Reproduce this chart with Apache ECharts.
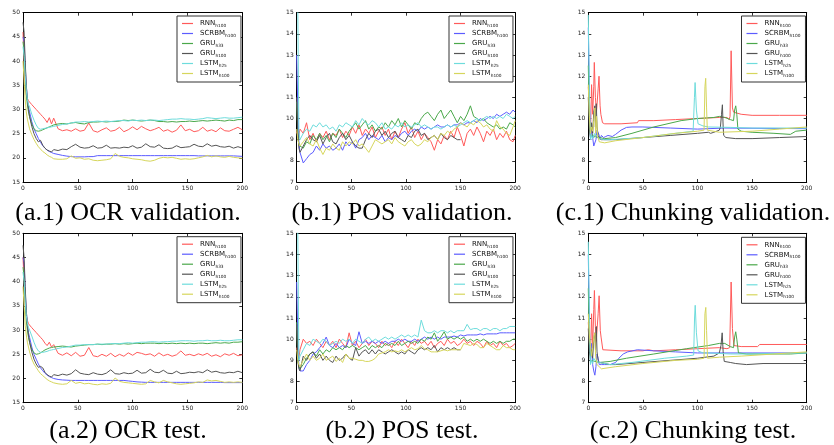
<!DOCTYPE html>
<html><head><meta charset="utf-8">
<script src="https://cdn.jsdelivr.net/npm/echarts@6/dist/echarts.min.js"></script>
<style>html,body{margin:0;padding:0;background:#fff}#c{width:834px;height:445px}</style>
</head><body><div id="c"></div>
<script>
// ---- names / colours ----
const seriesNames = ['RNN_h100','SCRBM_h100','GRU_h33','GRU_h100','LSTM_h25','LSTM_h100'];
const seriesColors = ['#ff5a5a','#5c5cff','#4aa84a','#555555','#6edcdc','#d6d65c'];
const captions = ['(a.1) OCR validation.','(b.1) POS validation.','(c.1) Chunking validation.',
                  '(a.2) OCR test.','(b.2) POS test.','(c.2) Chunking test.'];
const ocrTicks = {min:15,max:50,interval:5};
const tagTicks = {min:7,max:15,interval:1};
const epochTicks = {min:0,max:200,interval:50};

// ---- OCR (epochs) ----
const ocrX = [0,1,2,3,4,5,6,8,10,12,14,16,18,20,22,24,26,28,32,36,40,44,48,52,56,60,64,68,72,76,80,84,88,92,96,100,104,108,112,116,120,124,128,132,136,140,144,148,152,156,160,164,168,172,176,180,184,188,192,196,200];
const ocrValRNN = [46,40,35,33,32.3,31.8,31.5,31,30.5,30,29.5,29,28.5,28,27.3,28.3,27,
 28.2,26,25.6,25.8,25.5,26,25.5,25.7,27.2,25.6,25.3,25.8,26.2,25.5,25.7,26.3,25.4,25.8,26.4,25.8,26.5,26,25.6,25.9,26.3,25.5,25.8,25.3,25.7,26.8,25.6,25.9,25.4,25.6,26.3,25.5,25.8,25.4,26.2,25.6,25.5,25.9,26.3,25.8];
const ocrValSCRBM = [45,44,39,35,32,30.5,29.5,27.5,26,25,24,23.2,22.5,22,21.6,21.3,21.1,
 20.9,20.7,20.5,20.35,20.25,20.2,20.2,20.2,20.25,20.25,20.45,
 20.45,20.45,20.45,20.45,20.45,20.45,20.45,20.45,20.45,20.45,20.45,20.45,20.45,20.45,20.45,20.45,20.45,20.45,20.45,20.45,20.45,20.45,
 20.4,20.4,20.4,20.4,20.4,20.4,20.4,20.4,20.4,20.35,20.3];
const ocrValGRU33 = [44,42,37,33,31,29.5,28.5,27,26,25.6,25.5,25.6,25.8,26,26.2,26.4,26.6,
 26.8,27,27.1,27,27.2,27.3,27.1,27,27.3,27.4,27.4,27.5,27.4,27.5,27.5,27.6,27.8,27.7,27.8,27.7,27.6,27.7,27.8,27.7,27.5,27.5,27.4,27.5,27.4,27.5,27.5,27.6,27.5,27.6,27.7,27.6,27.7,27.8,27.7,27.6,27.8,27.7,27.9,27.9];
const ocrValGRU100 = [48,46,40,35,32,30,28.5,26.5,25,24,23.3,23.6,22.6,22,21.6,21.4,21.2,
 21.7,21.5,21.8,21.7,22.3,22.8,22.2,22,22.1,22.5,22,22.1,22.6,22,22.1,22,22.2,22.1,22.5,22,22.2,22.9,22.3,22.2,22.7,22,21.9,22,22.5,22.1,22.2,22.3,22.8,22.4,22.3,22.9,22.4,22.6,22.3,22.2,22.4,22,22.3,22];
const ocrValLSTM25 = [43,41,37,34,32,31,30.5,29,27.8,26.8,26.1,25.9,26,26.1,26.2,26.3,26.4,
 26.5,26.7,26.9,27,27.2,27.4,27.4,27.5,27.4,27.5,27.6,27.5,27.6,27.5,27.6,27.7,27.7,27.6,27.8,27.7,27.8,27.7,27.8,27.8,27.7,27.8,27.9,28,28,28.1,28,28,27.9,28,28.1,28.3,28.2,28.1,28.2,28.3,28.2,28.2,28.3,28.4];
const ocrValLSTM100 = [40,36,32,29.5,28,27,26,24.8,23.8,23,22.3,21.8,21.3,21,20.6,20.3,20.1,
 19.8,19.7,19.7,19.8,20.4,19.9,20,19.7,19.8,19.5,19.4,19.5,19.6,19.8,20.9,20.3,20.1,20,19.8,19.7,19.6,19.4,19.3,19.5,19.9,20.1,20,20.1,19.9,19.7,19.8,19.7,19.8,20,20.2,20.5,20.2,20.4,20.2,20.1,20.3,20.1,20,19.9];

const ocrTestRNN = [45,40,35,33,32,31.3,31,30.5,30,29.5,29,28.5,28,27.3,26.8,27.5,26.5,
 27,25.2,24.8,25.3,24.7,25.4,24.6,24.8,26.4,24.7,24.5,25,24.6,25.2,24.5,25,24.6,25.3,24.8,25.4,25.2,24.9,25.1,24.6,25.3,24.7,25,24.6,24.9,25.7,24.8,25,24.7,25.1,24.8,25.2,24.6,24.9,24.5,25.1,24.8,25.2,24.7,24.9];
const ocrTestSCRBM = [45,44,38,34,31,29.5,28.5,26.5,25,24,23,22.2,21.6,21.1,20.7,20.4,20.2,
 20,19.8,19.7,19.65,19.6,19.6,19.6,19.6,19.6,19.6,19.6,19.6,19.6,19.6,19.6,19.6,19.6,19.5,19.4,19.3,19.25,
 19.2,19.2,19.2,19.2,19.2,19.2,19.2,19.2,19.2,19.2,19.2,19.2,19.2,19.2,19.2,19.2,19.2,19.2,19.15,19.15,19.15,19.15,19.15];
const ocrTestGRU33 = [43,41,36,32,30,28.5,27.5,26,25.3,25,25.1,25.3,25.6,25.9,26.1,26.3,26.4,
 26.5,26.6,26.7,26.6,26.5,26.7,26.8,26.9,27,27,27.1,27,27.1,27.1,27.2,27.1,27.2,27.1,27.2,27.3,27.2,27.3,27.3,27.3,27.2,27.3,27.2,27.3,27.2,27.3,27.2,27.3,27.2,27.3,27.3,27.2,27.3,27.4,27.3,27.4,27.3,27.5,27.5,27.6];
const ocrTestGRU100 = [47.5,45,39,34,31,29,27.5,25.5,24,23,22.3,22.5,22.2,21.3,20.8,20.5,20.3,
 20.8,20.6,20.9,20.7,21,21.8,21.1,20.9,20.8,21.2,20.9,20.8,21.1,21.8,21,20.9,21.2,21,21.1,21.7,21.1,21.2,21.9,21.3,21.2,21.7,21.1,21,21.5,21,21.1,21.3,21.2,21.4,21.2,21.8,21.3,21.5,21.2,21.1,21.3,21.2,21.5,21.2];
const ocrTestLSTM25 = [42,40,36,33,31.5,30.5,30,28.8,27.5,26.4,25.7,25.4,25.4,25.5,25.6,25.8,25.9,
 26,26.2,26.4,26.5,26.7,26.9,26.9,27,27,27,27.1,27.1,27.1,27.2,27.2,27.2,27.3,27.4,27.3,27.4,27.5,27.5,27.6,27.6,27.5,27.6,27.6,27.7,27.7,27.8,27.8,27.8,27.7,27.8,27.8,27.9,27.8,27.8,27.9,27.8,27.8,27.9,28,28];
const ocrTestLSTM100 = [39,35,31,29,27.5,26.5,25.5,24,23,22.3,21.6,21,20.6,20.2,19.8,19.5,19.3,
 19.1,18.9,18.8,18.9,19.6,19,19.2,18.9,19,18.8,18.7,18.9,18.8,19,20.1,19.4,19.2,19.1,19,18.9,18.8,18.9,19.6,19.3,19.1,19.6,19.3,19.1,18.9,18.8,18.9,19,19.1,19.3,19.2,19.7,19.5,19.6,19.4,19.2,19.3,19.2,19.3,19.2];

// ---- POS (epochs) ----
const posX = [0,1,2,3,6,9,12,15,18,21, 24,27,30,33,36,39,42,45,48,51, 54,57,60,63,66,69,72,75,78,81,
 84,87,90,93,96,99,102,105,108,111, 114,117,120,123,126,129,132,135,138,141, 144,147,150,153,156,159,162,165,168,171,
 174,177,180,183,186,189,192,195,198,200];
const posValRNN = [9.3,9.5,9.2,9.5,9.3,9.8,9.0,9.3,8.9,9.3, 9.1,9.4,9.0,9.3,9.2,9.5,9.1,9.4,9.2,9.6,
 9.3,9.7,9.2,9.5,9.3,9.6,9.1,9.4,9.6,9.2, 9.5,9.0,9.4,9.1,9.5,9.8,9.3,9.6,9.1,9.4,
 9.0,9.3,9.1,8.9,8.5,9.0,8.8,9.2,9.0,9.4, 9.1,9.6,9.2,8.7,9.3,9.5,9.2,9.6,9.3,8.9,
 9.4,9.2,9.5,9.0,9.3,9.1,9.4,9.0,8.9,9.2];
const posValSCRBM = [13,10.5,8.9,8.4,7.9,8.1,8.3,8.4,8.7,8.5, 8.8,8.6,8.7,8.5,8.6,8.8,8.5,8.9,8.7,8.9,
 8.6,9.0,9.1,9.3,9.0,9.2,9.1,9.0,9.2,8.9, 9.1,9.0,9.2,9.1,9.3,9.4,9.2,9.4,9.5,9.4,
 9.6,9.5,9.6,9.5,9.6,9.7,9.6,9.6,9.7,9.6, 9.7,9.7,9.8,9.7,9.8,9.8,9.9,9.8,10.0,9.9,
 10.0,10.1,10.0,10.2,10.1,10.2,10.3,10.2,10.4,10.3];
const posValGRU33 = [10.8,9.2,8.8,8.7,8.6,8.9,8.8,9.2,9.0,9.3, 9.0,9.2,8.9,9.3,9.1,9.5,9.3,9.1,9.4,9.6,
 9.8,9.5,9.7,9.9,9.5,9.7,9.4,9.6,9.5,9.8, 9.6,9.9,9.7,10.0,9.6,9.9,9.7,9.5,9.8,9.7,
 10.0,10.2,10.3,10.1,9.9,10.2,10.4,10.0,10.2,10.4, 10.1,9.8,10.1,9.9,10.2,10.6,10.1,10.0,9.9,10.0,
 9.8,9.7,9.6,9.7,9.5,9.6,9.5,9.8,9.7,9.6];
const posValGRU100 = [11.0,9.4,8.6,8.4,8.7,9.0,9.2,9.0,8.9,9.2, 8.8,9.1,9.3,8.9,8.8,9.1,9.3,9.0,9.2,8.9,
 8.7,8.6,8.6,9.0,9.3,9.1,9.4,9.5,9.2,9.4, 9.1,9.3,9.4,9.1,9.0,8.9,9.2,9.1,9.4,9.5,
 9.2,9.3,9.0,9.1,9.2,9.0,9.3,9.1,9.0,9.2, 9.1,9.0,9.0];
const posValLSTM25 = [16,15.2,9.4,9.0,9.3,9.5,9.4,9.7,9.6,9.8, 9.6,9.7,9.5,9.6,9.4,9.7,9.6,9.8,9.7,9.6,
 9.9,9.7,10.0,9.8,9.7,9.9,9.8,9.6,9.8,9.5, 9.6,9.5,9.7,9.6,9.8,9.6,9.7,9.6,9.7,9.8,
 9.6,9.7,9.6,9.5,9.6,9.6,9.5,9.6,9.7,9.6, 9.7,9.6,9.7,9.8,9.9,9.8,9.9,10.0,9.9,10.0,
 10.1,10.0,10.1,10.0,10.1,10.0,10.2,10.1,10.0,10.1];
const posValLSTM100 = [9.5,9.0,8.8,8.7,8.9,9.1,8.8,8.7,9.0,8.6, 8.3,8.6,8.5,8.8,8.6,8.5,8.9,8.7,8.9,8.8,
 9.0,8.7,8.8,8.6,8.4,8.7,9.0,8.9,8.8,8.9, 9.0,8.8,9.1,8.9,8.8,8.7,8.9,9.0,8.8,8.7,
 8.8,9.0,8.9,9.1,9.2,9.0,9.3,9.2,9.4,9.3, 9.5,9.6,9.8,9.7,9.6,9.8,9.7,9.9,9.8,9.6,
 9.7,9.5,9.4,9.9,9.6,9.5,9.3,9.2,9.6,9.9];

const posTestRNN = [9.6,9.3,9.1,9.5,10.0,9.8,9.9,9.7,10.0,9.8, 9.6,9.9,9.7,9.9,9.6,10.0,9.8,9.6,10.3,9.7,
 9.9,9.6,9.8,10.0,9.7,9.9,9.8,9.6,9.9,9.7, 9.8,9.6,9.9,9.7,10.0,9.8,9.6,9.9,9.7,10.0,
 9.8,9.9,9.7,9.9,9.6,9.8,9.9,9.7,10.0,9.8, 9.9,9.7,9.8,10.0,9.8,9.9,9.7,9.9,9.8,9.6,
 9.9,9.7,9.8,9.6,9.9,9.7,9.8,9.6,9.7,9.8];
const posTestSCRBM = [12.7,10.0,8.7,8.5,8.5,8.8,9.0,9.3,9.4,9.6, 9.8,10.1,9.7,9.6,9.8,9.6,9.7,9.6,10.0,9.8,
 9.7,10.35,9.8,9.9,9.8,9.9,9.8,9.9,9.8,9.9, 9.8,9.9,9.9,10.0,9.9,10.0,9.9,9.9,10.0,9.9,
 10.0,10.1,10.0,10.1,10.0,10.1,10.0,10.1,10.1,10.1, 10.15,10.1,10.2,10.15,10.2,10.2,10.2,10.2,10.25,10.2,
 10.25,10.25,10.25,10.25,10.3,10.3,10.3,10.3,10.3,10.3];
const posTestGRU33 = [10.8,9.0,8.7,8.6,8.8,9.1,9.3,9.4,9.2,9.5, 9.3,9.5,9.4,9.6,9.5,9.6,9.5,9.7,9.6,9.7,
 9.6,9.5,9.6,9.7,9.5,9.7,9.6,9.7,9.6,9.8, 9.7,9.8,9.7,9.9,9.7,9.8,9.9,9.8,9.9,9.8,
 10.0,9.9,10.1,10.0,10.3,9.9,10.1,10.35,10.0,10.1, 10.0,10.1,10.0,10.1,9.9,10.0,9.9,10.0,9.9,10.0,
 9.9,9.8,9.9,9.8,9.9,9.8,9.9,9.9,10.0,10.0];
const posTestGRU100 = [10.7,9.0,8.6,8.5,9.2,9.0,9.3,9.4,9.1,9.3, 9.0,9.2,9.0,8.9,9.2,9.0,9.1,9.3,9.1,9.0,
 9.6,9.2,9.4,9.5,9.3,9.5,9.3,9.5,9.4,9.3, 9.4,9.5,9.4,9.3,9.4,9.3,9.5,9.4,9.3,9.5,
 9.6,9.5,9.6,9.5,9.7,9.4,9.6,9.5,9.6,9.5, 9.6,9.5,9.5];
const posTestLSTM25 = [16,15.1,9.0,9.2,9.5,9.8,9.7,10.0,9.9,9.8, 10.0,9.9,9.7,9.8,9.9,9.8,10.0,9.9,10.0,9.8,
 10.0,9.9,9.8,10.0,10.1,9.9,10.0,9.9,10.0,10.1, 10.0,10.1,10.0,10.1,10.2,10.1,10.2,10.1,10.2,10.1,
 10.9,10.4,10.3,10.3,10.4,10.3,10.4,10.4,10.3,10.4, 10.3,10.4,10.4,10.4,10.7,10.45,10.5,10.5,10.4,10.5,
 10.5,10.4,10.5,10.5,10.4,10.5,10.5,10.6,10.6,10.6];
const posTestLSTM100 = [9.5,9.0,8.8,8.7,9.0,9.3,9.0,9.2,9.0,9.1, 9.3,9.0,9.1,9.2,8.95,9.1,8.9,9.3,9.1,9.1,
 9.05,9.0,9.0,8.95,8.95,9.0,9.1,9.3,9.35,9.4, 9.5,9.4,9.45,9.4,9.5,9.4,9.5,9.6,9.5,9.55,
 9.7,9.55,9.5,9.4,9.4,9.4,9.45,9.5,9.45,9.5, 9.5,9.5,9.5,9.8,9.75,9.7,9.8,9.75,9.6,9.6,
 9.8,9.7,9.6,9.5,9.5,9.7,9.6,9.6,9.5,9.5];

// ---- Chunking ([epoch, value]) ----
const chkValRNN = [[0,11.5],[1,10.3],[2,9.2],[3,11.6],[4,10.2],[5,11.5],[5.5,12.65],[6.5,11.0],[7.5,10.3],[9,11.4],[9.8,12.0],[10.8,10.6],[11.5,10.2],[12,10.25],[13,9.8],[15,9.75],[30,9.75],[45,9.8],[46,9.9],[60,9.9],[80,9.95],[100,10],[120,10.05],[127,10.05],[129,9.95],[129.8,10.1],[130.8,13.2],[132,10.5],[133,10.3],[140,10.2],[150,10.15],[175,10.15],[200,10.15]];
const chkValSCRBM = [[0,14.3],[1,11],[2,9.0],[3,9.6],[4,9.1],[5,8.7],[6,8.65],[7,9.0],[8,9.45],[9,9.4],[10,9.2],[11,9.05],[12,9.2],[14,9.1],[16,9.15],[18,9.2],[22,9.15],[25,9.25],[30,9.45],[35,9.58],[40,9.6],[50,9.6],[75,9.55],[100,9.5],[125,9.55],[200,9.52]];
const chkValGRU33 = [[0,12.5],[1,10],[2,9.1],[3,9.15],[4,9.25],[5,9.1],[6,9.2],[8,9.1],[10,9.1],[15,9.05],[25,9.1],[40,9.3],[60,9.6],[85,9.9],[100,10.0],[115,10.05],[120,10.1],[125,10.05],[130,9.95],[133,9.9],[134,10.4],[135,10.6],[136,10.2],[137,9.5],[140,9.4],[150,9.35],[170,9.3],[185,9.25],[190,9.4],[200,9.45]];
const chkValGRU100 = [[0,11],[1,9.5],[2,9.1],[3,9.8],[4,9.3],[5,10.3],[6,10.6],[6.5,9.6],[7.3,10.7],[8,9.6],[9,9.2],[10,9.05],[12,9.0],[15,9.0],[25,9.0],[50,9.1],[75,9.2],[100,9.3],[110,9.35],[112,9.3],[115,9.35],[120,9.45],[121,9.6],[122,10.2],[122.8,10.65],[123.5,9.6],[124,9.2],[126,9.1],[135,9.05],[150,9.05],[175,9.1],[200,9.15]];
const chkValLSTM25 = [[0,14.9],[1,11],[2,9.0],[3,9.2],[4,9.05],[5,9.1],[6,9.3],[8,9.15],[10,9.05],[15,9.0],[20,9.0],[50,9.1],[80,9.3],[96,9.4],[97.2,11.0],[97.8,11.7],[99,10.4],[100.5,9.75],[105,9.65],[110,9.6],[130,9.58],[150,9.55],[200,9.55]];
const chkValLSTM100 = [[0,11.6],[1,10.1],[2,9.3],[3,9.6],[4,9.4],[5,9.9],[6,10.5],[6.7,9.3],[7.5,10.1],[8.5,9.2],[10,8.9],[15,8.85],[25,8.95],[50,9.1],[80,9.3],[100,9.4],[106,9.45],[106.8,11.5],[107.5,11.9],[108.3,10.5],[109,9.45],[110,9.4],[120,9.35],[150,9.4],[175,9.5],[200,9.6]];

const chkTestRNN = [[0,10.8],[1,9.9],[2,9.0],[3,11.2],[4,9.6],[5,11.4],[5.6,12.3],[6.5,10.6],[7.3,9.9],[9,11.2],[9.9,12.05],[11,10.4],[11.7,10.1],[12.3,10.1],[13.3,9.5],[15,9.45],[30,9.45],[50,9.45],[55,9.5],[60,9.45],[80,9.5],[100,9.55],[120,9.6],[127,9.55],[128.5,9.5],[129.5,9.6],[130.8,12.7],[132,10.5],[133.3,9.7],[140,9.65],[155,9.65],[157,9.75],[200,9.75]];
const chkTestSCRBM = [[0,14],[1,10.5],[2,8.9],[3,9.8],[4,8.8],[5,8.5],[6,8.3],[7,8.7],[8,9.3],[9,9.1],[10,8.8],[12,8.8],[15,8.8],[20,8.8],[25,8.9],[28,9.1],[32,9.3],[36,9.4],[45,9.5],[60,9.45],[80,9.4],[100,9.35],[150,9.35],[200,9.35]];
const chkTestGRU33 = [[0,12.4],[1,9.8],[2,8.9],[3,9.0],[4,9.05],[6,8.95],[10,8.9],[20,8.95],[35,9.1],[60,9.3],[90,9.55],[110,9.7],[120,9.8],[125,9.8],[130,9.65],[133,9.6],[134,10.1],[135,10.35],[136,10.0],[137.5,9.35],[145,9.3],[160,9.3],[185,9.3],[200,9.35]];
const chkTestGRU100 = [[0,10.5],[1,9.4],[2,9.2],[3,9.5],[4,9.1],[5,10.0],[6,10.3],[6.6,9.5],[7.3,10.6],[8,9.4],[9,9.0],[10,8.9],[15,8.85],[20,8.8],[25,8.8],[50,8.9],[75,9.0],[100,9.1],[115,9.2],[120,9.35],[121.5,9.7],[122.6,10.3],[123.5,9.4],[124.5,8.95],[130,8.9],[135,8.85],[145,8.8],[160,8.85],[200,8.85]];
const chkTestLSTM25 = [[0,14.6],[1,10.8],[2,8.8],[3,9.0],[4,8.85],[5,9.1],[6,9.0],[8,8.95],[10,8.9],[20,8.8],[40,8.9],[70,9.1],[90,9.2],[96.5,9.25],[97.3,11.0],[97.9,11.6],[99,10.3],[100.5,9.45],[105,9.35],[110,9.35],[130,9.3],[150,9.3],[200,9.35]];
const chkTestLSTM100 = [[0,11.2],[1,10.2],[2,9.7],[3,9.2],[4,9.6],[5,10.1],[6,10.3],[6.7,9.2],[8,8.8],[10,8.7],[12,8.6],[25,8.7],[50,8.85],[80,9.0],[100,9.05],[106,9.1],[106.8,11.2],[107.6,11.5],[108.3,10.4],[109.2,9.1],[110,9.1],[120,9.15],[140,9.2],[170,9.3],[200,9.4]];

// ---- assemble ----
function pairs(xs, ys){ return ys.map((y,i)=>[xs[i], y]); }
const panels = [
  {grid:{left:23,top:12.7,width:219.3,height:169.3}, legend:{left:177,top:16}, y:ocrTicks,
   data:[ocrValRNN,ocrValSCRBM,ocrValGRU33,ocrValGRU100,ocrValLSTM25,ocrValLSTM100].map(v=>pairs(ocrX,v))},
  {grid:{left:296.7,top:12.7,width:218.5,height:169.3}, legend:{left:449,top:16}, y:tagTicks,
   data:[posValRNN,posValSCRBM,posValGRU33,posValGRU100,posValLSTM25,posValLSTM100].map(v=>pairs(posX,v))},
  {grid:{left:588.3,top:12.7,width:218.4,height:169.3}, legend:{left:741.5,top:16}, y:tagTicks,
   data:[chkValRNN,chkValSCRBM,chkValGRU33,chkValGRU100,chkValLSTM25,chkValLSTM100]},
  {grid:{left:23,top:233.3,width:219.3,height:169.4}, legend:{left:177,top:236.7}, y:ocrTicks,
   data:[ocrTestRNN,ocrTestSCRBM,ocrTestGRU33,ocrTestGRU100,ocrTestLSTM25,ocrTestLSTM100].map(v=>pairs(ocrX,v))},
  {grid:{left:296.7,top:233.3,width:218.5,height:169.4}, legend:{left:449,top:236.7}, y:tagTicks,
   data:[posTestRNN,posTestSCRBM,posTestGRU33,posTestGRU100,posTestLSTM25,posTestLSTM100].map(v=>pairs(posX,v))},
  {grid:{left:588.3,top:233.3,width:218.4,height:169.4}, legend:{left:741.5,top:237.3}, y:tagTicks,
   data:[chkTestRNN,chkTestSCRBM,chkTestGRU33,chkTestGRU100,chkTestLSTM25,chkTestLSTM100]}
];
const captionPos = [[128,213],[402,213],[693,213],[128,431],[402,431],[693,431]];

const tickFont = {fontSize:6, color:'#222', fontFamily:'DejaVu Sans'};
const axLine = {show:true, onZero:false, lineStyle:{color:'#000', width:1}};
const axTick = {show:true, inside:true, length:3, lineStyle:{color:'#000', width:0.8}};

const option = {
  backgroundColor:'#fff', animation:false,
  grid: panels.map(p=>Object.assign({containLabel:false}, p.grid)),
  xAxis: [], yAxis: [], series: [], legend: [],
  graphic: captions.map((t,i)=>({type:'text', x:captionPos[i][0], y:captionPos[i][1],
    style:{text:t, fill:'#000', font:'26px "Liberation Serif", "Times New Roman", serif', textAlign:'center', textVerticalAlign:'middle'}}))
};
panels.forEach((p,gi)=>{
  ['bottom','top'].forEach((pos,k)=>option.xAxis.push({gridIndex:gi, type:'value', position:pos,
    min:epochTicks.min, max:epochTicks.max, interval:epochTicks.interval,
    axisLine:axLine, axisTick:axTick, splitLine:{show:false},
    axisLabel: k===0 ? Object.assign({margin:3}, tickFont) : {show:false}}));
  ['left','right'].forEach((pos,k)=>option.yAxis.push({gridIndex:gi, type:'value', position:pos,
    min:p.y.min, max:p.y.max, interval:p.y.interval,
    axisLine:axLine, axisTick:axTick, splitLine:{show:false},
    axisLabel: k===0 ? Object.assign({margin:3}, tickFont) : {show:false}}));
  p.data.forEach((d,si)=>option.series.push({
    type:'line', name:seriesNames[si], xAxisIndex:gi*2, yAxisIndex:gi*2, data:d,
    symbol:'none', showSymbol:false, clip:true, silent:true,
    lineStyle:{color:seriesColors[si], width:1}, itemStyle:{color:seriesColors[si]}, z:2+si*0.01
  }));
  option.legend.push({
    left:p.legend.left, top:p.legend.top, orient:'vertical', data:seriesNames, selectedMode:false,
    backgroundColor:'#fff', borderColor:'#333', borderWidth:1, borderRadius:0, padding:[4,5,4,5],
    icon:'rect', itemWidth:11, itemHeight:1.2, itemGap:2,
    formatter: n => { const [m,s] = n.split('_'); return '{m|'+m+'}{s|'+s+'}'; },
    textStyle:{fontFamily:'DejaVu Sans', color:'#111', rich:{
      m:{fontSize:7, lineHeight:9, verticalAlign:'middle', padding:[0,0,0,2], color:'#111', fontFamily:'DejaVu Sans'},
      s:{fontSize:4.3, lineHeight:4, verticalAlign:'bottom', color:'#111', fontFamily:'DejaVu Sans'}}}
  });
});
const chart = echarts.init(document.getElementById('c'), null, {renderer:'canvas'});
chart.setOption(option);
</script></body></html>
